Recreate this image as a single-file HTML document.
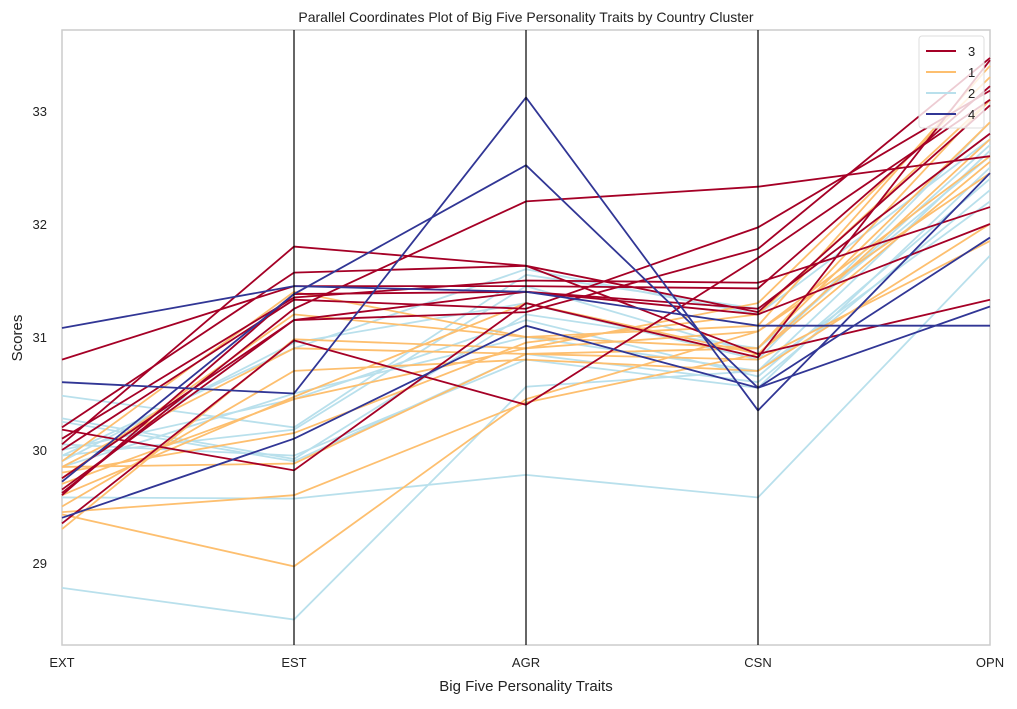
<!DOCTYPE html>
<html><head><meta charset="utf-8"><style>
body{margin:0;background:#fff;font-family:"Liberation Sans",sans-serif;}
</style></head><body>
<svg id="c" width="1017" height="704" xmlns="http://www.w3.org/2000/svg">
<rect x="62" y="30" width="928" height="615" fill="#fff" stroke="#ccc" stroke-width="1.5"/>
<text x="526" y="22" text-anchor="middle" font-size="14" fill="#222">Parallel Coordinates Plot of Big Five Personality Traits by Country Cluster</text>
<text x="526" y="691" text-anchor="middle" font-size="15" fill="#222">Big Five Personality Traits</text>
<text x="22" y="338" text-anchor="middle" font-size="15" fill="#222" transform="rotate(-90 22 338)">Scores</text>
<g id="lines"></g><g id="axes"></g>
<g>
<rect x="919" y="36" width="65" height="92" fill="#fff" fill-opacity="0.8" stroke="#ddd" rx="3"/>
<g id="leg"></g></g>
</svg>
<script>
const traits=["EXT","EST","AGR","CSN","OPN"];
const yTicks=[29,30,31,32,33];
const legendOrder=["3","1","2","4"];
const colors={"3":"#a50026","1":"#fdbf6f","2":"#b9e0ec","4":"#313695"};
const cluster2=[[30.48,30.2,31.55,31.25,32.8],[30.28,29.92,31.2,30.9,32.6],[30.25,29.9,30.85,30.6,32.3],[29.95,30.18,31.45,30.85,32.7],[29.58,29.57,29.78,29.58,31.72],[28.78,28.5,30.56,30.7,32.2],[29.95,30.9,31.6,31.2,32.75],[30.0,30.45,31.15,30.65,32.4],[29.9,30.95,31.3,30.8,32.9],[30.05,29.95,30.8,30.55,32.5],[29.85,30.5,31.0,30.7,32.65]];
const cluster1=[[29.85,29.88,30.85,30.9,32.9],[29.8,30.15,30.95,31.2,33.1],[29.45,29.6,30.42,30.85,32.55],[29.43,28.97,30.45,31.05,32.6],[29.3,30.98,30.9,31.3,33.3],[29.5,30.7,30.8,30.7,32.0],[29.6,30.47,31.3,30.85,32.75],[29.9,31.4,31.0,30.9,33.1],[29.75,31.2,31.0,31.1,33.4],[29.85,30.9,30.85,30.8,31.85],[29.7,30.45,30.9,31.05,32.45]];
const cluster3=[[30.8,31.45,31.45,31.43,33.22],[30.2,31.57,31.63,31.22,33.05],[30.1,31.35,31.5,31.48,32.15],[30.05,31.8,31.63,30.85,31.33],[30.0,31.33,31.25,31.97,33.18],[29.75,31.15,31.22,31.78,33.47],[29.62,31.25,32.2,32.33,32.6],[29.6,31.38,31.4,31.2,32.0],[29.35,30.97,30.4,31.7,33.1],[30.18,29.82,31.3,30.82,33.45],[29.65,31.15,31.4,31.25,32.8]];
const cluster4=[[31.08,31.45,31.4,31.1,31.1],[30.6,30.5,33.12,30.35,32.45],[29.72,31.38,32.52,30.55,31.88],[29.4,30.1,31.1,30.55,31.27]];
const X=i=>62+i*232;
const Y=v=>111+(33-v)*113;
const NS="http://www.w3.org/2000/svg";
const gl=document.getElementById('lines'),ga=document.getElementById('axes'),lg=document.getElementById('leg');
function draw(rows,c){rows.forEach(r=>{const p=document.createElementNS(NS,'polyline');
p.setAttribute('points',r.map((v,i)=>X(i)+','+Y(v)).join(' '));
p.setAttribute('fill','none');p.setAttribute('stroke',colors[c]);p.setAttribute('stroke-width','1.8');


gl.appendChild(p);});}
draw(cluster2,"2");draw(cluster1,"1");draw(cluster3,"3");draw(cluster4,"4");
traits.forEach((t,i)=>{if(i>0&&i<4){const l=document.createElementNS(NS,'line');
l.setAttribute('x1',X(i));l.setAttribute('x2',X(i));l.setAttribute('y1',30);l.setAttribute('y2',645);l.setAttribute('stroke','#000');l.setAttribute('stroke-width','1.2');


ga.appendChild(l);}
const tx=document.createElementNS(NS,'text');tx.setAttribute('x',X(i));tx.setAttribute('y',667);tx.setAttribute('text-anchor','middle');tx.setAttribute('font-size','13');tx.setAttribute('fill','#222');tx.textContent=t;


ga.appendChild(tx);});
yTicks.forEach(v=>{const tx=document.createElementNS(NS,'text');tx.setAttribute('x',47);tx.setAttribute('y',Y(v)+5);tx.setAttribute('text-anchor','end');tx.setAttribute('font-size','13');tx.setAttribute('fill','#222');tx.textContent=v;


ga.appendChild(tx);});
legendOrder.forEach((c,i)=>{const y=51+i*21;const l=document.createElementNS(NS,'line');
l.setAttribute('x1',926);l.setAttribute('x2',956);l.setAttribute('y1',y);l.setAttribute('y2',y);l.setAttribute('stroke',colors[c]);l.setAttribute('stroke-width','2');


lg.appendChild(l);
const t=document.createElementNS(NS,'text');t.setAttribute('x',968);t.setAttribute('y',y+5);t.setAttribute('font-size','13');t.setAttribute('fill','#222');t.textContent=c;


lg.appendChild(t);});
</script>
</body></html>
